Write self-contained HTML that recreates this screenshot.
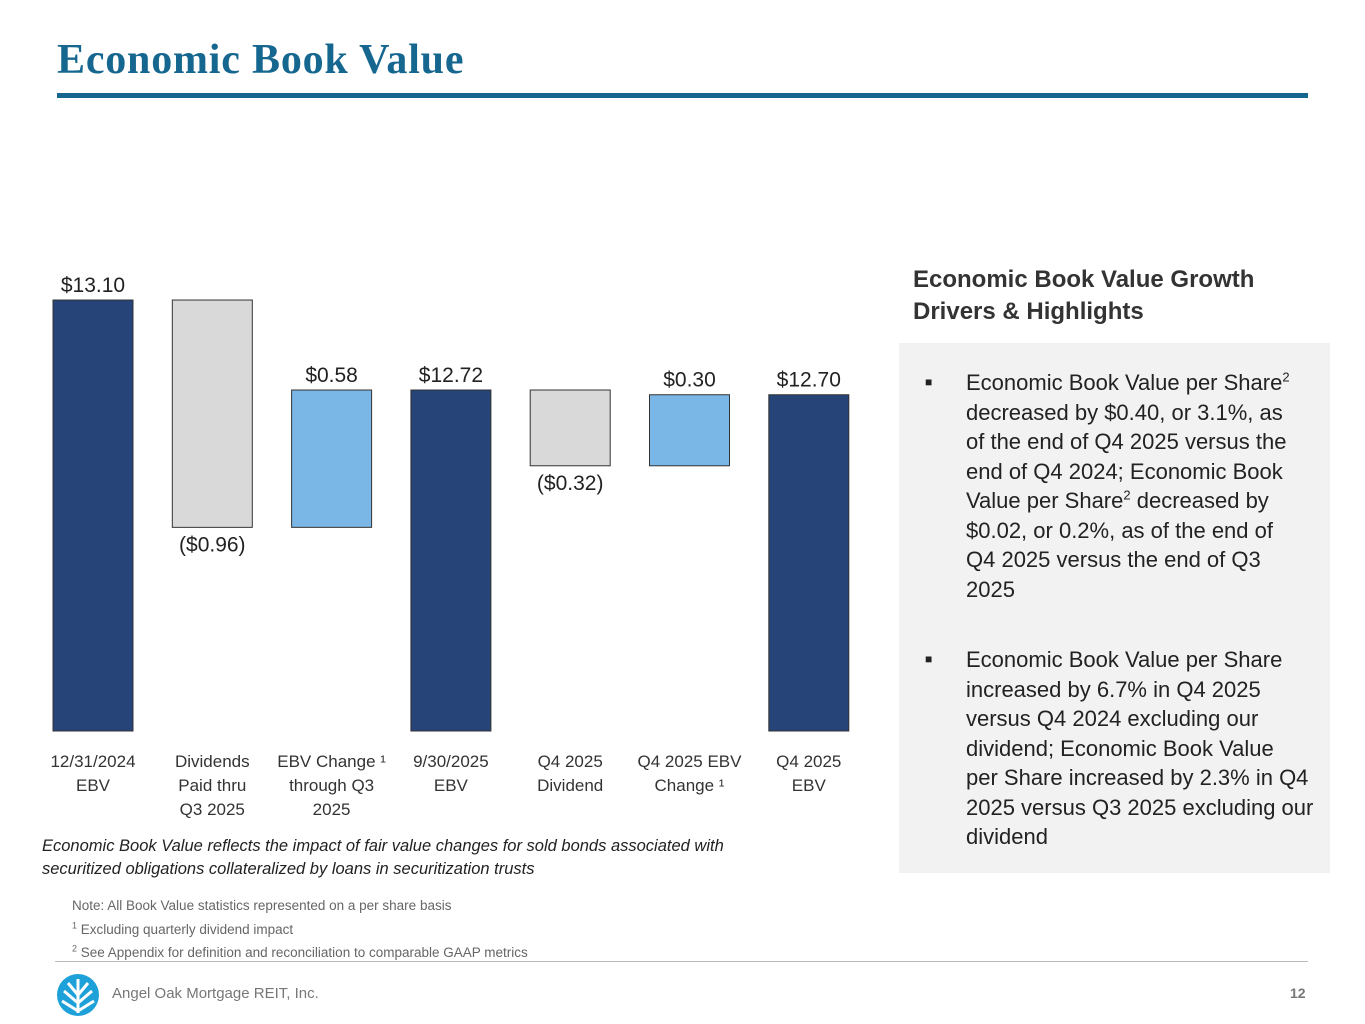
<!DOCTYPE html>
<html><head><meta charset="utf-8"><style>
body{margin:0;width:1365px;height:1024px;background:#fff;position:relative;overflow:hidden;font-family:"Liberation Sans",sans-serif;}
.abs{position:absolute;}
sup{line-height:0;vertical-align:super;}
</style></head><body>
<div class="abs" style="left:57px;top:36px;font-family:'Liberation Serif',serif;font-weight:bold;font-size:42px;color:#16678f;letter-spacing:0.8px;">Economic Book Value</div>
<div class="abs" style="left:57px;top:93px;width:1251px;height:5px;background:#16678f;"></div>

<svg class="abs" style="left:0;top:0" width="1365" height="1024" id="chart"></svg>

<div class="abs" style="left:913px;top:264px;font-size:24px;font-weight:bold;color:#333;line-height:32px;">Economic Book Value Growth<br>Drivers &amp; Highlights</div>
<div class="abs" style="left:899px;top:343px;width:431px;height:530px;background:#f2f2f2;"></div>
<div class="abs" style="left:925px;top:368px;width:380px;font-size:22px;line-height:29.5px;color:#222;">
<span style="position:absolute;left:0;font-size:12px;">■</span>
<div style="margin-left:41px;">Economic Book Value per Share<sup style="font-size:13px;">2</sup> decreased by $0.40, or 3.1%, as of the end of Q4 2025 versus the end of Q4 2024; Economic Book Value per Share<sup style="font-size:13px;">2</sup> decreased by $0.02, or 0.2%, as of the end of Q4 2025 versus the end of Q3 2025</div></div>
<div class="abs" style="left:925px;top:645px;width:392px;font-size:22px;line-height:29.5px;color:#222;">
<span style="position:absolute;left:0;font-size:12px;">■</span>
<div style="margin-left:41px;">Economic Book Value per Share increased by 6.7% in Q4 2025 versus Q4 2024 excluding our dividend; Economic Book Value<br>per Share increased by 2.3% in Q4 2025 versus Q3 2025 excluding our dividend</div></div>

<div class="abs" style="left:42px;top:835px;font-size:16.5px;font-style:italic;color:#222;line-height:23px;">Economic Book Value reflects the impact of fair value changes for sold bonds associated with<br>securitized obligations collateralized by loans in securitization trusts</div>
<div class="abs" style="left:72px;top:894px;font-size:13.5px;color:#666;line-height:23.5px;">Note: All Book Value statistics represented on a per share basis<br><sup style="font-size:9px;">1</sup> Excluding quarterly dividend impact<br><sup style="font-size:9px;">2</sup> See Appendix for definition and reconciliation to comparable GAAP metrics</div>
<div class="abs" style="left:55px;top:961px;width:1253px;height:1px;background:#bbb;"></div>
<svg class="abs" style="left:56px;top:973px" width="44" height="44">
<circle cx="22" cy="22" r="21" fill="#1ea0d8"/>
<path d="M22 6 V40 M22 30 L8 18 M22 30 L36 18 M22 22 L12 10 M22 22 L32 10 M22 38 L6 28 M22 38 L38 28" stroke="#fff" stroke-width="3"/>
</svg>
<div class="abs" style="left:112px;top:985px;font-size:15px;color:#777;">Angel Oak Mortgage REIT, Inc.</div>
<div class="abs" style="left:1290px;top:985px;font-size:14px;color:#777;font-weight:bold;">12</div>

<script>
const categories=["12/31/2024|EBV","Dividends|Paid thru|Q3 2025","EBV Change ¹|through Q3|2025","9/30/2025|EBV","Q4 2025|Dividend","Q4 2025 EBV|Change ¹","Q4 2025|EBV"];
const values=[13.10,-0.96,0.58,12.72,-0.32,0.30,12.70];
const kinds=["total","delta","delta","total","delta","delta","total"];
const labels=["$13.10","($0.96)","$0.58","$12.72","($0.32)","$0.30","$12.70"];
const svg=document.getElementById('chart');
const NS='http://www.w3.org/2000/svg';
const yMin=11.28,base=731,k=236.8;
const y=v=>base-(v-yMin)*k;
const x=i=>53+i*119.3;
const bw=80;
function mk(t,a){const e=document.createElementNS(NS,t);for(const q in a)e.setAttribute(q,a[q]);svg.appendChild(e);return e;}
let run=0;
values.forEach((v,i)=>{
  let top,bot,fill;
  if(kinds[i]==="total"){run=v;top=y(v);bot=base;fill="#264478";}
  else{const s=run,e2=run+v;run=e2;top=y(Math.max(s,e2));bot=y(Math.min(s,e2));fill=v<0?"#d9d9d9":"#7ab6e6";}
  const r=mk('rect',{x:x(i),y:top,width:bw,height:bot-top,fill:fill,stroke:"#333","stroke-width":1});
  
  
  const ly=v<0?bot+24:top-8;
  const t=mk('text',{x:x(i)+bw/2,y:ly,"text-anchor":"middle","font-size":21,fill:"#222","font-family":"Liberation Sans, sans-serif"});
  t.textContent=labels[i];
  
  
  categories[i].split('|').forEach((ln,j)=>{
    const c=mk('text',{x:x(i)+bw/2,y:767+j*24,"text-anchor":"middle","font-size":17,fill:"#333","font-family":"Liberation Sans, sans-serif"});
    c.textContent=ln;
    
    
  });
});
</script>
</body></html>
